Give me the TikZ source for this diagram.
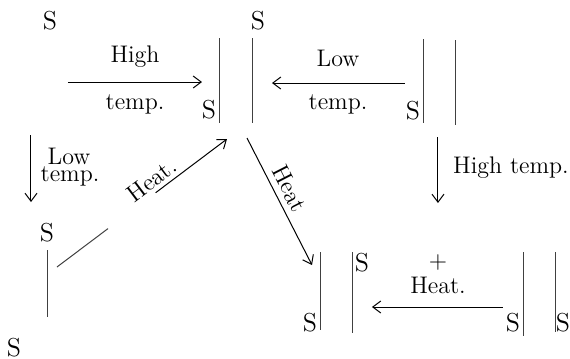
\documentclass[tikz,border=0pt]{standalone}
\usetikzlibrary{arrows.meta,calc}
\begin{document}
\begin{tikzpicture}[x=0.5pt,y=-0.5pt,
  lbl/.style={font=\fontsize{12}{14}\selectfont, inner sep=1pt},
  atom/.style={font=\fontsize{13}{15}\selectfont, inner sep=0pt},
  bond/.style={line width=0.4pt, draw=black!75},
  arr/.style={line width=0.5pt, -{Straight Barb[length=4pt,width=6pt]}}]
\useasboundingbox (0,0) rectangle (570,359);
% atoms
\node[atom] (s1) at (50,21) {S};
\node[atom] (s2) at (258,21) {S};
\node[atom] (s3) at (209,110) {S};
\node[atom] (s4) at (413,111) {S};
\node[atom] (s5) at (47,233) {S};
\node[atom] (s6) at (14,348) {S};
\node[atom] (s7) at (310,323) {S};
\node[atom] (s8) at (362,263) {S};
\node[atom] (s9) at (513,323) {S};
\node[atom] (s10) at (563,323) {S};
% bonds
\coordinate (b1t) at (219,38); \coordinate (b1b) at (219,123);
\coordinate (b2t) at (252,38); \coordinate (b2b) at (252,123);
\coordinate (b3t) at (423,39); \coordinate (b3b) at (423,123);
\coordinate (b4t) at (455,40); \coordinate (b4b) at (455,125);
\coordinate (b5t) at (47,250); \coordinate (b5b) at (47,317);
\coordinate (b6t) at (320,252); \coordinate (b6b) at (320,330);
\coordinate (b7t) at (352,252); \coordinate (b7b) at (352,333);
\coordinate (b8t) at (523,252); \coordinate (b8b) at (523,336);
\coordinate (b9t) at (555,252); \coordinate (b9b) at (555,332);
\foreach \i in {1,...,9} \draw[bond] (b\i t) -- (b\i b);
% arrow end points
\coordinate (a1s) at (68,82);  \coordinate (a1e) at (202,82);
\coordinate (a2s) at (405,83); \coordinate (a2e) at (272,83);
\coordinate (a3s) at (31,135); \coordinate (a3e) at (31,202);
\coordinate (a4s) at (438,137); \coordinate (a4e) at (438,203);
\coordinate (a5s) at (57,267); \coordinate (a5e) at (227,139);
\coordinate (a6s) at (247,138); \coordinate (a6e) at (312,265);
\coordinate (a7s) at (503,307); \coordinate (a7e) at (372,307);
\draw[arr] (a1s) -- (a1e);
\draw[arr] (a2s) -- (a2e);
\draw[arr] (a3s) -- (a3e);
\draw[arr] (a4s) -- (a4e);
% broken "Heat." line
\path (a5s) -- node[lbl, sloped, pos=0.6, above=1pt] (h1) {Heat.} (a5e);
\draw[bond, line width=0.5pt] (a5s) -- ($(a5s)!0.3!(a5e)$);
\draw[arr] ($(a5s)!0.58!(a5e)$) -- (a5e);
\draw[arr] (a6s) -- node[lbl, sloped, pos=0.45, above=2pt] (h2) {Heat} (a6e);
\draw[arr] (a7s) -- (a7e);
% labels
\node[lbl] (l1) at (135,57) {High};
\node[lbl] (l2) at (135,104) {temp.};
\node[lbl] (l3) at (338,58) {Low};
\node[lbl] (l4) at (338,104) {temp.};
\node[lbl] (l5) at (69,156) {Low};
\node[lbl] (l6) at (70,176) {temp.};
\node[lbl] (l7) at (511,168) {High temp.};
\node[lbl] (l8) at (438,263) {+};
\node[lbl] (l9) at (438,285) {Heat.};
\end{tikzpicture}
\end{document}
